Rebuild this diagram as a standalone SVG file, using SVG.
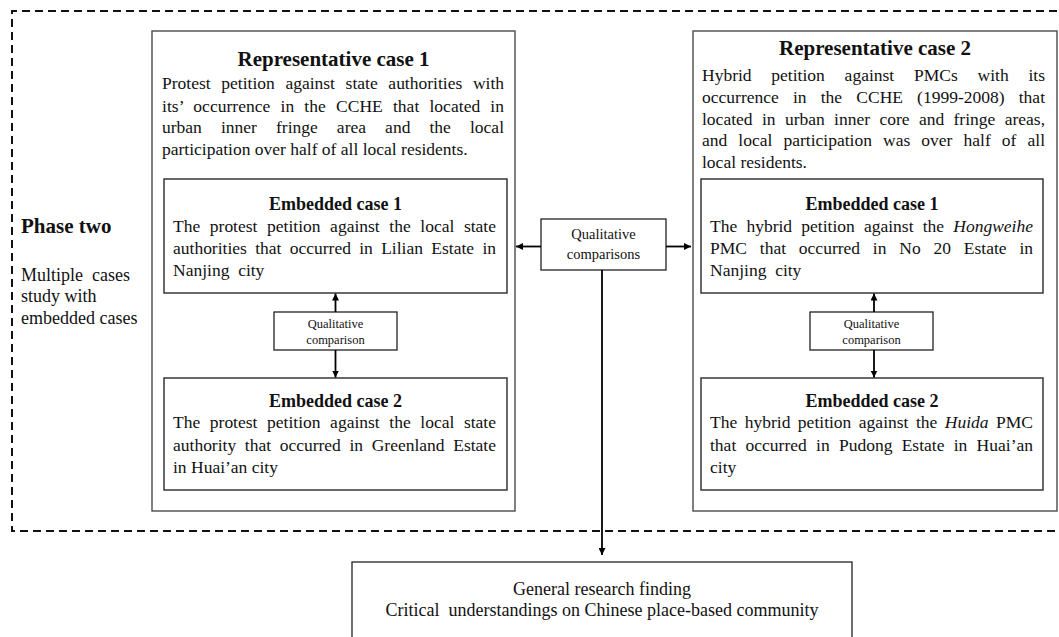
<svg xmlns="http://www.w3.org/2000/svg" width="1059" height="637" viewBox="0 0 1059 637">
<style>
text{font-family:"Liberation Serif","Times New Roman",serif;fill:#111}
.body{font-size:17.5px}
.ttl{font-size:21px;font-weight:bold;text-anchor:middle}
.ettl{font-size:18px;font-weight:bold;text-anchor:middle}
.small{font-size:12.5px;text-anchor:middle}
.mid{font-size:14.5px;text-anchor:middle}
.fin{font-size:18px;text-anchor:middle}
.rep{fill:#fff;stroke:#4a4a4a;stroke-width:1.4}
.emb{fill:#fff;stroke:#2a2a2a;stroke-width:1.4}
.box{fill:#fff;stroke:#222;stroke-width:1.3}
.conn{stroke:#000;stroke-width:1.8;fill:none;marker-end:url(#ah)}
.it{font-style:italic}
</style>
<defs>
<marker id="ah" viewBox="0 0 10 10" refX="10" refY="5" markerWidth="7" markerHeight="7" markerUnits="userSpaceOnUse" orient="auto"><path d="M0,0 L10,5 L0,10 z" fill="#000"/></marker>
</defs>
<rect width="1059" height="637" fill="#fff"/>

<g id="phase">
<path d="M1070,11 H12 V531 H1070" fill="none" stroke="#111" stroke-width="2" stroke-dasharray="8 5"/>
<text x="21" y="233" style="font-size:21px;font-weight:bold">Phase two</text>
<text x="21" y="281" style="font-size:18px" xml:space="preserve">Multiple  cases</text>
<text x="21" y="302" style="font-size:18px">study with</text>
<text x="21" y="324" style="font-size:18px">embedded cases</text>
</g>

<g id="rep1">
<rect class="rep" x="152" y="31" width="363" height="480"/>
<text class="ttl" x="333.5" y="66">Representative case 1</text>
<text class="body" x="162" y="89.3" word-spacing="6.27" textLength="342" lengthAdjust="spacing">Protest petition against state authorities with</text>
<text class="body" x="162" y="111.5" word-spacing="5.74" textLength="342" lengthAdjust="spacing">its’ occurrence in the CCHE that located in</text>
<text class="body" x="162" y="133.3" word-spacing="14.7" textLength="342" lengthAdjust="spacing">urban inner fringe area and the local</text>
<text class="body" x="162" y="155">participation over half of all local residents.</text>
</g>

<g id="emb1a">
<rect class="emb" x="164" y="179" width="343" height="114"/>
<text class="ettl" x="335.5" y="210">Embedded case 1</text>
<text class="body" x="173" y="231.7" word-spacing="5.22" textLength="323" lengthAdjust="spacing">The protest petition against the local state</text>
<text class="body" x="173" y="254" word-spacing="3.93" textLength="323" lengthAdjust="spacing">authorities that occurred in Lilian Estate in</text>
<text class="body" x="173" y="276" xml:space="preserve">Nanjing  city</text>
</g>

<g id="qc1">
<rect class="box" x="274" y="312" width="123" height="38"/>
<text class="small" x="335.5" y="328">Qualitative</text>
<text class="small" x="335.5" y="343.5">comparison</text>
</g>

<g id="emb1b">
<rect class="emb" x="164" y="378" width="343" height="112"/>
<text class="ettl" x="335.5" y="406.7">Embedded case 2</text>
<text class="body" x="173" y="428.3" word-spacing="5.22" textLength="323" lengthAdjust="spacing">The protest petition against the local state</text>
<text class="body" x="173" y="450.7" word-spacing="4.24" textLength="323" lengthAdjust="spacing">authority that occurred in Greenland Estate</text>
<text class="body" x="173" y="472.7">in Huai’an city</text>
</g>

<g id="rep2">
<rect class="rep" x="693" y="31" width="364" height="480"/>
<text class="ttl" x="875" y="55">Representative case 2</text>
<text class="body" x="702" y="81" word-spacing="15.4" textLength="343" lengthAdjust="spacing">Hybrid petition against PMCs with its</text>
<text class="body" x="702" y="102.8" word-spacing="9.78" textLength="343" lengthAdjust="spacing">occurrence in the CCHE (1999-2008) that</text>
<text class="body" x="702" y="124.6" word-spacing="4.98" textLength="343" lengthAdjust="spacing">located in urban inner core and fringe areas,</text>
<text class="body" x="702" y="146.4" word-spacing="6.71" textLength="343" lengthAdjust="spacing">and local participation was over half of all</text>
<text class="body" x="702" y="168.2">local residents.</text>
</g>

<g id="emb2a">
<rect class="emb" x="701" y="179" width="342" height="114"/>
<text class="ettl" x="872" y="210">Embedded case 1</text>
<text class="body" x="710" y="231.7" word-spacing="4.81" textLength="323" lengthAdjust="spacing">The hybrid petition against the <tspan class="it">Hongweihe</tspan></text>
<text class="body" x="710" y="254" word-spacing="8.44" textLength="323" lengthAdjust="spacing">PMC that occurred in No 20 Estate in</text>
<text class="body" x="710" y="276" xml:space="preserve">Nanjing  city</text>
</g>

<g id="qc2">
<rect class="box" x="810" y="312" width="123" height="38"/>
<text class="small" x="871.5" y="328">Qualitative</text>
<text class="small" x="871.5" y="343.5">comparison</text>
</g>

<g id="emb2b">
<rect class="emb" x="701" y="378" width="342" height="112"/>
<text class="ettl" x="872" y="406.7">Embedded case 2</text>
<text class="body" x="710" y="428.3" word-spacing="3.11" textLength="323" lengthAdjust="spacing">The hybrid petition against the <tspan class="it">Huida</tspan> PMC</text>
<text class="body" x="710" y="450.7" word-spacing="4.9" textLength="323" lengthAdjust="spacing">that occurred in Pudong Estate in Huai’an</text>
<text class="body" x="710" y="472.7">city</text>
</g>

<g id="qcmid">
<rect class="box" x="541" y="219" width="125" height="51"/>
<text class="mid" x="603.5" y="239">Qualitative</text>
<text class="mid" x="603.5" y="258.5">comparisons</text>
</g>

<g id="finding">
<rect class="box" x="352" y="562" width="500" height="90"/>
<text class="fin" x="602" y="595">General research finding</text>
<text class="fin" x="602" y="616" xml:space="preserve">Critical  understandings on Chinese place-based community</text>
</g>

<g id="connectors">
<line class="conn" x1="541" y1="246.5" x2="516" y2="246.5"/>
<line class="conn" x1="666" y1="246.5" x2="691" y2="246.5"/>
<line class="conn" x1="602" y1="270" x2="602" y2="555"/>
<line class="conn" x1="335.5" y1="312" x2="335.5" y2="293.5"/>
<line class="conn" x1="335.5" y1="350" x2="335.5" y2="377.5"/>
<line class="conn" x1="874" y1="312" x2="874" y2="293.5"/>
<line class="conn" x1="874" y1="350" x2="874" y2="377.5"/>
</g>
</svg>
